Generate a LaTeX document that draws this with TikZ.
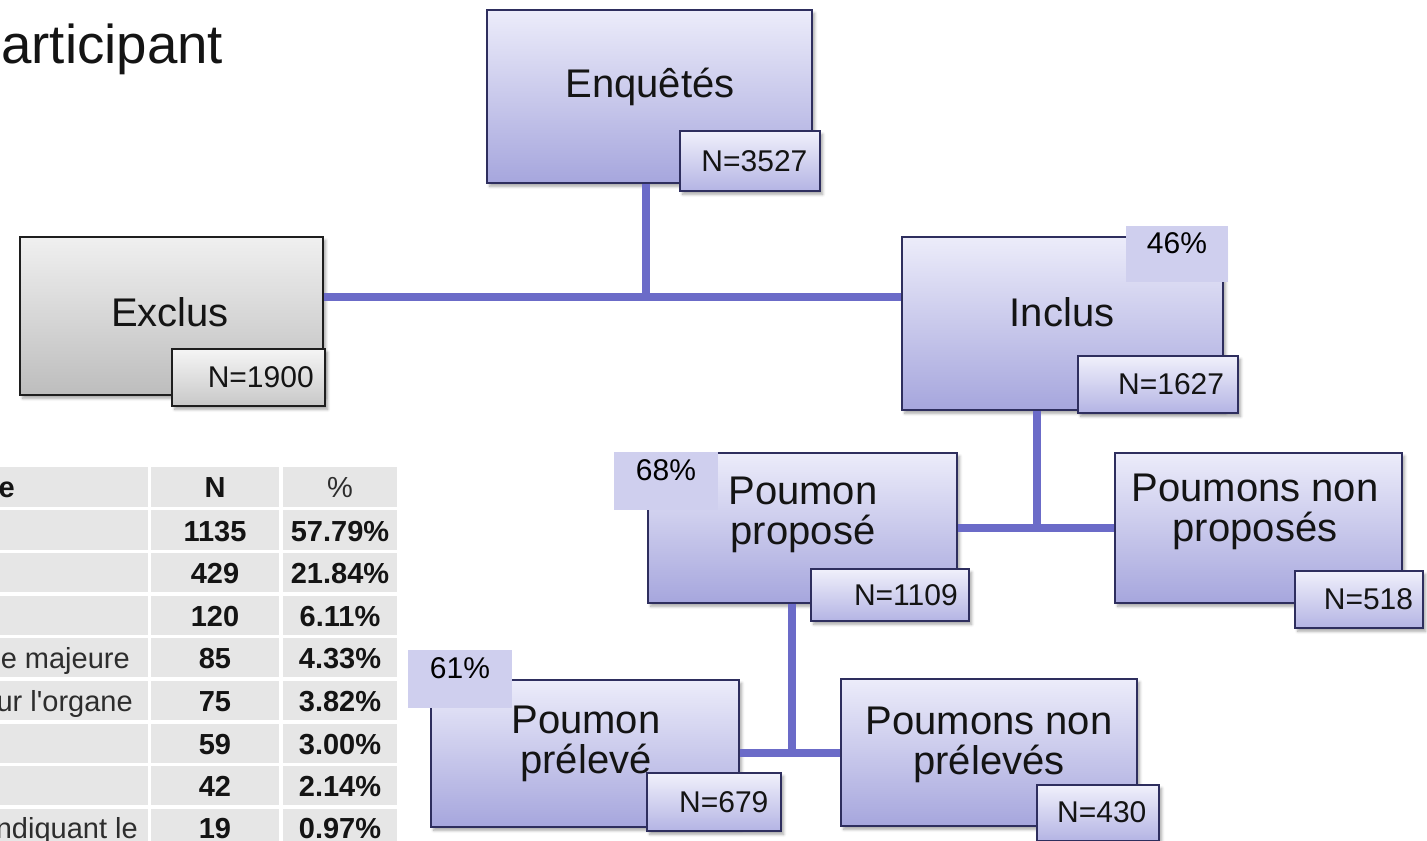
\documentclass[tikz,border=0pt]{standalone}
\usepackage{fontspec}
\setmainfont{Liberation Sans}
\usetikzlibrary{fit,shadows.blur}
\definecolor{lnc}{RGB}{107,107,200}
\definecolor{bdr}{RGB}{46,46,94}
\definecolor{boxtop}{RGB}{236,236,250}
\definecolor{boxbot}{RGB}{166,166,221}
\definecolor{ntop}{RGB}{240,240,251}
\definecolor{nbot}{RGB}{180,180,228}
\definecolor{gbdr}{RGB}{30,30,30}
\definecolor{gtop}{RGB}{240,240,240}
\definecolor{gbot}{RGB}{189,189,189}
\definecolor{gntop}{RGB}{245,245,245}
\definecolor{gnbot}{RGB}{200,200,200}
\definecolor{pct}{RGB}{207,207,238}
\definecolor{cellc}{RGB}{230,230,230}
\definecolor{txt}{RGB}{20,20,20}
\definecolor{tgray}{RGB}{45,45,45}
\tikzset{
 conn/.style={draw=lnc, line width=6.5pt},
 mainbox/.style={draw=bdr, line width=1.5pt, top color=boxtop, bottom color=boxbot, inner sep=0pt,
   blur shadow={shadow xshift=2pt, shadow yshift=-2.5pt, shadow blur steps=6, shadow opacity=35}},
 graybox/.style={mainbox, draw=gbdr, top color=gtop, bottom color=gbot},
 nbox/.style={mainbox, top color=ntop, bottom color=nbot},
 gnbox/.style={graybox, top color=gntop, bottom color=gnbot},
 pbox/.style={fill=pct, draw=none, inner sep=0pt, text=black, font=\fontsize{22.5}{24}\selectfont},
 lbl/.style={font=\fontsize{30}{30}\selectfont, align=center, inner sep=0pt, text=txt},
 ntext/.style={font=\fontsize{22.5}{24}\selectfont, inner sep=0pt, text=txt, anchor=east},
 tnum/.style={font=\fontsize{21.75}{22}\selectfont\bfseries, inner sep=0pt, anchor=base, text=txt},
 ttxt/.style={font=\fontsize{21.75}{22}\selectfont, inner sep=0pt, anchor=base east, text=tgray},
}
\begin{document}
\begin{tikzpicture}[x=0.75pt,y=-0.75pt]
\useasboundingbox (0,0) rectangle (1427,840);
% title
\node[font=\fontsize{41}{44}\selectfont, inner sep=0pt, anchor=base west, text=txt] (title) at (1,63) {articipant};
% table
\foreach \t/\b in {467/507,510/550,553/592,596/635,638/677,681/720,724/763,766/805,809/850}{
  \foreach \l/\r in {0/148,151/279,283/397}{
    \fill[cellc] (\l,\t) rectangle (\r,\b);
  }
}
\node[tnum, anchor=base east] (h1) at (15,497) {e};
\node[tnum] (h2) at (215,497) {N};
\node[font=\fontsize{21.75}{22}\selectfont, inner sep=0pt, anchor=base, text=tgray] (h3) at (340,497) {\%};
\node[ttxt] (r4) at (130,668) {e majeure};
\node[ttxt] (r5) at (133,711) {ur l\textquotesingle organe};
\node[ttxt] (r8) at (138,838) {ndiquant le};
\node[tnum] (n1) at (215,541) {1135};  \node[tnum] (p1) at (340,541) {57.79\%};
\node[tnum] (n2) at (215,583) {429};   \node[tnum] (p2) at (340,583) {21.84\%};
\node[tnum] (n3) at (215,626) {120};   \node[tnum] (p3) at (340,626) {6.11\%};
\node[tnum] (n4) at (215,668) {85};    \node[tnum] (p4) at (340,668) {4.33\%};
\node[tnum] (n5) at (215,711) {75};    \node[tnum] (p5) at (340,711) {3.82\%};
\node[tnum] (n6) at (215,754) {59};    \node[tnum] (p6) at (340,754) {3.00\%};
\node[tnum] (n7) at (215,796) {42};    \node[tnum] (p7) at (340,796) {2.14\%};
\node[tnum] (n8) at (215,838) {19};    \node[tnum] (p8) at (340,838) {0.97\%};
% junction coordinates
\coordinate (j1) at (646,297);
\coordinate (j2) at (1037,528);
\coordinate (j3) at (792,753);
% boxes
\node[mainbox, fit={(487,10)(812,183)}] (enq) {};
\node[graybox, fit={(20,237)(323,395)}] (exc) {};
\node[mainbox, fit={(902,237)(1223,410)}] (inc) {};
\node[mainbox, fit={(648,453)(957,603)}] (prop) {};
\node[mainbox, fit={(1115,453)(1402,603)}] (nprop) {};
\node[mainbox, fit={(431,680)(739,827)}] (prel) {};
\node[mainbox, fit={(841,679)(1137,826)}] (nprel) {};
% connectors
\draw[conn] (j1 |- enq.south) -- (j1);
\draw[conn] (exc.east |- j1) -- (inc.west |- j1);
\draw[conn] (j2 |- inc.south) -- (j2);
\draw[conn] (prop.east |- j2) -- (nprop.west |- j2);
\draw[conn] (j3 |- prop.south) -- (j3);
\draw[conn] (prel.east |- j3) -- (nprel.west |- j3);
% main labels
\node[lbl] (enqt) at (650,87) {Enquêtés};
\node[lbl] (exct) at (170,312) {Exclus};
\node[lbl] (inct) at (1062,312) {Inclus};
\node[lbl] (propt) at (803,515) {Poumon\\proposé};
\node[lbl] (npropt) at (1255,512) {Poumons non\\proposés};
\node[lbl] (prelt) at (586,744) {Poumon\\prélevé};
\node[lbl] (nprelt) at (989,745) {Poumons non\\prélevés};
% N boxes
\node[nbox, fit={(680,131)(820,191)}] (enqN) {};
\node[ntext] (enqNt) at ([xshift=-10pt]enqN.east) {N=3527};
\node[gnbox, fit={(172,349)(325,406)}] (excN) {};
\node[ntext] (excNt) at ([xshift=-9pt]excN.east) {N=1900};
\node[nbox, fit={(1078,356)(1238,413)}] (incN) {};
\node[ntext] (incNt) at ([xshift=-11pt]incN.east) {N=1627};
\node[nbox, fit={(811,569)(969,621)}] (propN) {};
\node[ntext] (propNt) at ([xshift=-9pt]propN.east) {N=1109};
\node[nbox, fit={(1295,571)(1423,628)}] (npropN) {};
\node[ntext] (npropNt) at ([xshift=-8pt]npropN.east) {N=518};
\node[nbox, fit={(647,773)(781,831)}] (prelN) {};
\node[ntext] (prelNt) at ([xshift=-10pt]prelN.east) {N=679};
\node[nbox, fit={(1037,785)(1159,841)}] (nprelN) {};
\node[ntext] (nprelNt) at ([xshift=-10pt]nprelN.east |- 0,812) {N=430};
% percent boxes
\node[pbox, fit={(1126,226)(1228,282)}] (p46) {46\%};
\node[pbox, fit={(614,452)(718,510)}] (p68) {68\%};
\node[pbox, fit={(408,650)(512,708)}] (p61) {61\%};
\end{tikzpicture}
\end{document}
